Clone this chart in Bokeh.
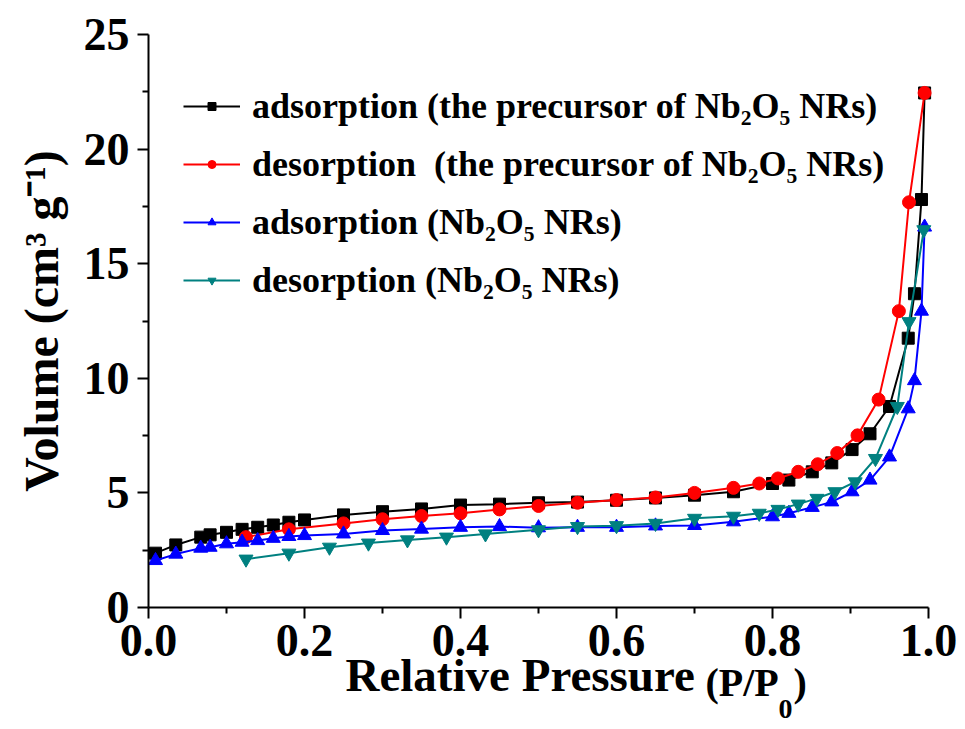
import math
from bokeh.plotting import figure
from bokeh.models import Range1d, FixedTicker, Legend, LegendItem, Label, NumeralTickFormatter
from bokeh.embed import file_html
from bokeh.resources import INLINE

# ---- data ----
ads_x = [0.009, 0.035, 0.067, 0.079, 0.10, 0.12, 0.14, 0.16, 0.18, 0.20, 0.25, 0.30,
         0.35, 0.40, 0.45, 0.50, 0.55, 0.60, 0.65, 0.70, 0.75, 0.80, 0.821, 0.851,
         0.876, 0.902, 0.925, 0.95, 0.974, 0.982, 0.991, 0.995]
ads_precursor = [2.37, 2.73, 3.07, 3.17, 3.28, 3.41, 3.50, 3.60, 3.72, 3.82, 4.04, 4.18,
                 4.30, 4.47, 4.51, 4.57, 4.60, 4.68, 4.78, 4.90, 5.05, 5.41, 5.56, 5.92,
                 6.31, 6.89, 7.58, 8.77, 11.75, 13.69, 17.80, 22.45]
ads_nr = [2.05, 2.33, 2.59, 2.63, 2.78, 2.85, 2.92, 3.02, 3.10, 3.14, 3.21, 3.36,
          3.42, 3.50, 3.53, 3.48, 3.50, 3.50, 3.56, 3.58, 3.74, 3.96, 4.11, 4.37,
          4.61, 5.05, 5.56, 6.57, 8.67, 9.90, 12.93, 16.60]

des_precursor_x = [0.995, 0.975, 0.962, 0.936, 0.909, 0.883, 0.858, 0.833, 0.807, 0.783,
                   0.75, 0.70, 0.65, 0.60, 0.55, 0.50, 0.45, 0.40, 0.35, 0.30, 0.25,
                   0.18, 0.125]
des_precursor = [22.45, 17.68, 12.93, 9.07, 7.51, 6.74, 6.25, 5.92, 5.63, 5.41,
                 5.22, 5.00, 4.80, 4.69, 4.57, 4.43, 4.28, 4.11, 3.99, 3.85, 3.67,
                 3.41, 3.07]

des_nr_x = [0.994, 0.975, 0.96, 0.932, 0.906, 0.88, 0.857, 0.833, 0.807, 0.783,
            0.75, 0.70, 0.65, 0.60, 0.55, 0.50, 0.432, 0.382, 0.332, 0.282, 0.232,
            0.18, 0.125]
des_nr = [16.48, 12.47, 8.77, 6.50, 5.48, 5.05, 4.76, 4.51, 4.28, 4.11,
          3.98, 3.89, 3.67, 3.57, 3.53, 3.39, 3.21, 3.07, 2.95, 2.81, 2.63,
          2.37, 2.11]

x_ticks = [0.0, 0.2, 0.4, 0.6, 0.8, 1.0]
x_minor = [0.1, 0.3, 0.5, 0.7, 0.9]
y_ticks = [0, 5, 10, 15, 20, 25]
y_minor = [2.5, 7.5, 12.5, 17.5, 22.5]

labels = ["adsorption (the precursor of Nb\u2082O\u2085 NRs)",
          "desorption  (the precursor of Nb\u2082O\u2085 NRs)",
          "adsorption (Nb\u2082O\u2085 NRs)",
          "desorption (Nb\u2082O\u2085 NRs)"]
colors = ["#000000", "#ff0000", "#0000ff", "#008080"]
y_title = "Volume (cm\u00b3 g\u207b\u00b9)"

FONT = "Liberation Serif"

# The frame covers the whole canvas; the axes sit at x=0 / y=0 so that the
# titles (drawn as annotations) can be placed in the margin area.
W, H = 965, 729
LEFT, RIGHT, TOP, BOTTOM = 148, 928, 34, 607   # pixel position of x=0, x=1, y=25, y=0
xs = 1.0 / (RIGHT - LEFT)
ys = 25.0 / (BOTTOM - TOP)
p = figure(width=W, height=H, output_backend="svg", toolbar_location=None,
           x_range=Range1d(-LEFT * xs, 1 + (W - RIGHT) * xs),
           y_range=Range1d(-(H - BOTTOM) * ys, 25 + TOP * ys),
           min_border_left=0, min_border_right=0, min_border_top=0,
           min_border_bottom=0, background_fill_color="white",
           border_fill_color="white")
p.outline_line_color = None
p.grid.visible = False

r1l = p.line(ads_x, ads_precursor, line_color=colors[0], line_width=2)
r1m = p.scatter(ads_x, ads_precursor, marker="square", size=12, color=colors[0])
r2l = p.line(des_precursor_x, des_precursor, line_color=colors[1], line_width=2)
r2m = p.scatter(des_precursor_x, des_precursor, marker="circle", size=13, color=colors[1])
r3l = p.line(ads_x, ads_nr, line_color=colors[2], line_width=2)
r3m = p.scatter(ads_x, ads_nr, marker="triangle", size=14, color=colors[2])
r4l = p.line(des_nr_x, des_nr, line_color=colors[3], line_width=2)
r4m = p.scatter(des_nr_x, des_nr, marker="inverted_triangle", size=14, color=colors[3])

for ax in (p.xaxis[0], p.yaxis[0]):
    ax.fixed_location = 0
    ax.axis_line_width = 2
    ax.axis_line_color = "black"
    ax.major_tick_line_width = 2
    ax.minor_tick_line_width = 2
    ax.major_tick_in = 0
    ax.major_tick_out = 11
    ax.minor_tick_in = 0
    ax.minor_tick_out = 6
    ax.major_label_text_font = FONT
    ax.major_label_text_font_style = "bold"
    ax.major_label_text_font_size = "46px"
    ax.major_label_text_color = "black"

p.xaxis[0].bounds = (0, 1)
p.yaxis[0].bounds = (0, 25)
p.xaxis[0].ticker = FixedTicker(ticks=x_ticks, minor_ticks=x_minor)
p.yaxis[0].ticker = FixedTicker(ticks=y_ticks, minor_ticks=y_minor)
p.xaxis[0].formatter = NumeralTickFormatter(format="0.0")
p.xaxis[0].major_label_standoff = 6
p.yaxis[0].major_label_standoff = 8

# y title (rotated), centred on the y axis span
p.add_layout(Label(x=-107 * xs, y=12.5, text=y_title, angle=math.pi / 2,
                   text_font=FONT, text_font_style="bold", text_font_size="48px",
                   text_color="black", text_align="center", text_baseline="middle"))

# x title: "Relative Pressure" plus the smaller "(P/P0)" with subscript
x_title_parts = [("Relative Pressure", 197, 67, "47px"),
                 ("(P/P", 557, 75, "40px"),
                 ("0", 630, 101, "28px"),
                 (")", 645, 75, "40px")]
for txt, dx, dy, fs in x_title_parts:
    p.add_layout(Label(x=dx * xs, y=-dy * ys, text=txt,
                       text_font=FONT, text_font_style="bold", text_font_size=fs,
                       text_color="black", text_align="left",
                       text_baseline="alphabetic"))

legend = Legend(items=[LegendItem(label=labels[0], renderers=[r1l, r1m]),
                       LegendItem(label=labels[1], renderers=[r2l, r2m]),
                       LegendItem(label=labels[2], renderers=[r3l, r3m]),
                       LegendItem(label=labels[3], renderers=[r4l, r4m])],
                location=(183, H - 301), padding=0, border_line_color=None,
                background_fill_alpha=0, label_text_font=FONT,
                label_text_font_style="bold", label_text_font_size="36px",
                label_text_color="black", glyph_width=57, glyph_height=20,
                label_height=20, label_standoff=12, spacing=16)
p.add_layout(legend, "center")

open("out.html", "w").write(file_html(p, INLINE))
